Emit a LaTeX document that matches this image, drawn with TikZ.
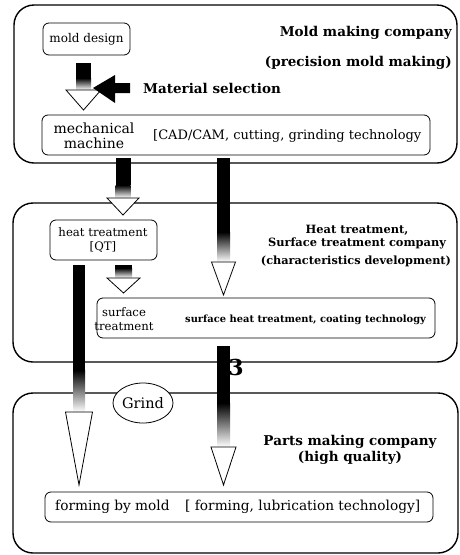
\documentclass[tikz,border=0pt]{standalone}
\usepackage{fontspec}
\setmainfont{DejaVu Serif}
\usetikzlibrary{shapes.geometric}
\newcommand\blockarrow[7]{% x, top, fade, head, tip, stem half, head half
  \fill[black] (#1-#6,#2) rectangle (#1+#6,#3);
  \shade[top color=black,bottom color=white] (#1-#6,#3) rectangle (#1+#6,#4);
  \draw[line width=0.8pt,fill=white,line join=miter] (#1-#7,#4) -- (#1+#7,#4) -- (#1,#5) -- cycle;
}
\begin{document}
\begin{tikzpicture}[x=1pt,y=-1pt,
  company/.style={draw,line width=1.4pt,rounded corners=20pt},
  stepbox/.style={draw,line width=0.8pt,rounded corners=6pt},
  ttl/.style={font=\fontsize{13.5}{16}\selectfont\bfseries,align=center,inner sep=0pt},
  ttlsmall/.style={font=\fontsize{11.4}{12.5}\selectfont\bfseries,align=center,inner sep=0pt},
  txt/.style={font=\fontsize{11.7}{13.5}\selectfont,align=center,inner sep=0pt},
]
\useasboundingbox (0,0) rectangle (460,555);
% company boxes
\draw[company] (14,5) rectangle (457,163);
\draw[company] (13,203) rectangle (457,362);
\draw[company] (13,393) rectangle (458,553);
% inner boxes
\draw[stepbox] (43,23) rectangle (130,55);
\node[txt,font=\fontsize{12}{14}\selectfont] (design) at (86.5,39) {mold design};
\draw[stepbox] (42,115) rectangle (430,155);
\node[txt,font=\fontsize{14}{15}\selectfont] (mech) at (94,136) {mechanical\\machine};
\node[txt,font=\fontsize{13}{14}\selectfont,anchor=west] (cad) at (153,136) {[CAD/CAM, cutting, grinding technology};
\draw[stepbox] (50,220) rectangle (157,260);
\node[txt] (heat) at (103,240) {heat treatment\\{[QT]}};
\draw[stepbox] (97,298) rectangle (435,338);
\node[txt] (surf) at (124,319) {surface\\treatment};
\node[txt,font=\fontsize{9.9}{11}\selectfont\bfseries,anchor=west] (coat) at (185,320) {surface heat treatment, coating technology};
\draw[stepbox] (45,492) rectangle (433,522);
\node[txt,font=\fontsize{13.7}{14}\selectfont,anchor=west] (form) at (55,507) {forming by mold};
\node[txt,font=\fontsize{13.7}{14}\selectfont,anchor=west] (lub) at (185,507) {[ forming, lubrication technology]};
% titles
\node[ttl,anchor=east] (t1) at (452,33) {Mold making company};
\node[ttl,anchor=east] (t1b) at (452,63) {(precision mold making)};
\node[ttlsmall] (t2) at (357,237) {Heat treatment,\\Surface treatment company};
\node[ttl,font=\fontsize{11.3}{13}\selectfont\bfseries] (t2b) at (356,261) {(characteristics development)};
\node[ttl] (t3) at (350,450) {Parts making company\\(high quality)};
% arrows
\blockarrow{83.5}{63}{78}{90}{110}{7.5}{17.5}
\blockarrow{123}{158}{185}{198}{215}{7.5}{16}
\blockarrow{223.5}{158}{232}{262}{295}{6.5}{12}
\blockarrow{123.5}{265}{268}{278}{293}{8.5}{16.5}
\blockarrow{79}{265}{370}{412}{485}{6}{13.5}
\blockarrow{223.5}{346}{403}{447}{485}{6.5}{12.5}
% material selection
\fill[black] (93,88) -- (115,75) -- (115,83) -- (130,83) -- (130,93) -- (115,93) -- (115,103) -- cycle;
\node[ttl,anchor=west] (mat) at (143,88) {Material selection};
% grind
\node[draw,ellipse,fill=white,line width=0.8pt,minimum width=60pt,minimum height=40pt,inner sep=0pt,font=\fontsize{14.5}{15}\selectfont] (grind) at (143,403) {Grind};
\node[font=\fontsize{22}{22}\selectfont\bfseries,inner sep=0pt] (three) at (236,367) {3};
\end{tikzpicture}
\end{document}
